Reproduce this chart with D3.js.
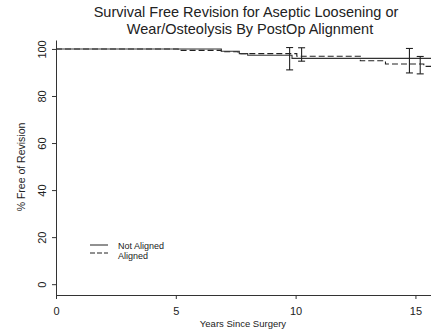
<!DOCTYPE html>
<html>
<head>
<meta charset="utf-8">
<script src="https://cdn.jsdelivr.net/npm/d3@7"></script>
<style>
  body { margin: 0; background: #fff; }
  text { font-family: "Liberation Sans", Arial, sans-serif; fill: #222; }
</style>
</head>
<body>
<svg class="km"></svg>
<script>
const svgWidth = 431;
const svgHeight = 334;

// Kaplan-Meier steps (years, % free of revision)
var notAlignedYears = [0, 6.9, 7.65, 8.0, 9.85, 15.7];
var notAlignedPct   = [100, 99.0, 98.0, 97.3, 96.0, 96.0];
var alignedYears = [0, 5.1, 6.9, 7.6, 10.05, 12.7, 13.75, 15.35, 15.7];
var alignedPct   = [100, 99.4, 98.8, 98.0, 96.9, 95.0, 93.6, 92.6, 92.6];

// confidence bars: year, low, high
var notAlignedCI = [[9.75, 91.1, 100.6], [14.75, 89.8, 100.2]];
var alignedCI    = [[10.25, 94.8, 100.5], [15.2, 89.4, 96.8]];

var yTicks = [0, 20, 40, 60, 80, 100];
var xTicks = [0, 5, 10, 15];
var legendLabels = ["Not Aligned", "Aligned"];

const svg = d3.select('.km')
  .attr('width', svgWidth)
  .attr('height', svgHeight);

var x = d3.scaleLinear().domain([0, 15.65]).range([56, 431]);
var y = d3.scaleLinear().domain([-4.6, 103.8]).range([295, 40]);

// title
svg.append('text')
  .attr('x', 246).attr('y', 17)
  .attr('text-anchor', 'middle')
  .style('font-size', '14.5px')
  .text('Survival Free Revision for Aseptic Loosening or');
svg.append('text')
  .attr('x', 250).attr('y', 33.5)
  .attr('text-anchor', 'middle')
  .style('font-size', '14.5px')
  .text('Wear/Osteolysis By PostOp Alignment');

// axes
var xAxis = svg.append('g')
  .attr('transform', 'translate(0,' + y(-4.6) + ')')
  .call(d3.axisBottom(x).tickValues(xTicks).tickSize(4).tickSizeOuter(0));
xAxis.selectAll('text').attr('dy', '1.15em').style('font-size', '11px')
  .style('font-family', '"Liberation Sans", Arial, sans-serif').attr('fill', '#333');

var yAxis = svg.append('g')
  .attr('transform', 'translate(' + x(0) + ',0)')
  .call(d3.axisLeft(y).tickValues(yTicks).tickSize(4).tickSizeOuter(0));
yAxis.selectAll('text')
  .attr('transform', 'rotate(-90)')
  .attr('x', 0).attr('y', -10)
  .attr('dy', 0)
  .attr('text-anchor', 'middle')
  .style('font-size', '11px')
  .style('font-family', '"Liberation Sans", Arial, sans-serif')
  .attr('fill', '#333');
svg.selectAll('.domain, .tick line').attr('stroke', '#333');

svg.append('text')
  .attr('x', 243).attr('y', 327)
  .attr('text-anchor', 'middle')
  .style('font-size', '9.5px')
  .text('Years Since Surgery');
svg.append('text')
  .attr('transform', 'rotate(-90)')
  .attr('x', -167).attr('y', 25)
  .attr('text-anchor', 'middle')
  .style('font-size', '10.5px')
  .text('% Free of Revision');

// curves
var step = d3.line()
  .x(function(d) { return x(d[0]); })
  .y(function(d) { return y(d[1]); })
  .curve(d3.curveStepAfter);

svg.append('path')
  .datum(d3.zip(alignedYears, alignedPct))
  .attr('fill', 'none')
  .attr('stroke', '#222')
  .attr('stroke-width', 1.1)
  .attr('stroke-dasharray', '6,3')
  .attr('d', step);

svg.append('path')
  .datum(d3.zip(notAlignedYears, notAlignedPct))
  .attr('fill', 'none')
  .attr('stroke', '#333')
  .attr('stroke-width', 1.1)
  .attr('d', step);

// error bars
function drawCI(data) {
  var g = svg.append('g').attr('stroke', '#222').attr('stroke-width', 1.1);
  data.forEach(function(d) {
    var cx = x(d[0]);
    g.append('line')
      .attr('x1', cx).attr('x2', cx)
      .attr('y1', y(d[1])).attr('y2', y(d[2]));
    [d[1], d[2]].forEach(function(v) {
      g.append('line')
        .attr('x1', cx - 3.5).attr('x2', cx + 3.5)
        .attr('y1', y(v)).attr('y2', y(v));
    });
  });
}
drawCI(notAlignedCI);
drawCI(alignedCI);

// legend
var legend = svg.append('g');
legendLabels.forEach(function(lab, i) {
  legend.append('line')
    .attr('x1', 90).attr('x2', 108)
    .attr('y1', 245 + i * 8).attr('y2', 245 + i * 8)
    .attr('stroke', '#222')
    .attr('stroke-dasharray', i == 1 ? '5,2' : null);
  legend.append('text')
    .attr('x', 118).attr('y', 248.5 + i * 10.5)
    .style('font-size', '9px')
    .text(lab);
});
</script>
</body>
</html>
